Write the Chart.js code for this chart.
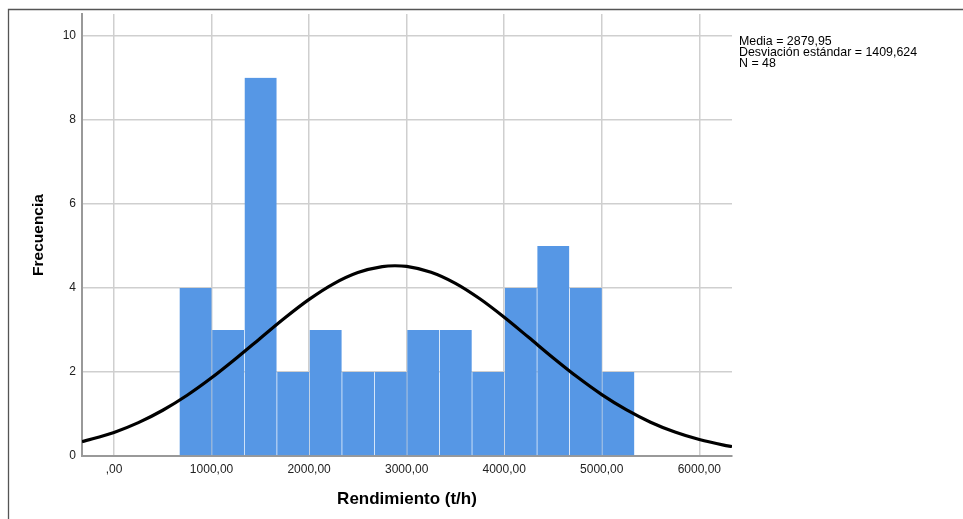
<!DOCTYPE html>
<html>
<head>
<meta charset="utf-8">
<script src="https://cdn.jsdelivr.net/npm/chart.js@4/dist/chart.umd.min.js"></script>
<style>
  html, body { margin: 0; padding: 0; background: #fff; }
  canvas { display: block; }
</style>
</head>
<body>
<canvas id="hist" width="963" height="519"></canvas>
<script>
// Histogram bins of Rendimiento (t/h): edges and frequency per bar
const binEdges = [666.67, 1000.00, 1333.33, 1666.67, 2000.00, 2333.33, 2666.67, 3000.00,
                  3333.33, 3666.67, 4000.00, 4333.33, 4666.67, 5000.00, 5333.33];
const binCounts = [4, 3, 9, 2, 3, 2, 2, 3, 3, 2, 4, 5, 4, 2];

// Normal curve heights (frequency units) along the Rendimiento axis
const curveX = [-328, 0, 250, 500, 750, 1000, 1250, 1500, 1750, 2000, 2250, 2500, 2750, 2880,
                3000, 3250, 3500, 3750, 4000, 4250, 4500, 4750, 5000, 5250, 5500, 5750, 6000, 6250, 6335];
const curveY = [0.34, 0.561, 0.794, 1.089, 1.446, 1.861, 2.321, 2.804, 3.284, 3.727, 4.098, 4.366, 4.509, 4.528,
                4.512, 4.374, 4.110, 3.742, 3.302, 2.824, 2.339, 1.878, 1.461, 1.102, 0.805, 0.570, 0.391, 0.260, 0.225];

// Axis ticks
const xTickValues = [0, 1000, 2000, 3000, 4000, 5000, 6000];
const xTickLabels = [',00', '1000,00', '2000,00', '3000,00', '4000,00', '5000,00', '6000,00'];
const yTickValues = [0, 2, 4, 6, 8, 10];
const yTickLabels = ['0', '2', '4', '6', '8', '10'];

// Summary statistics shown beside the plot
const statsLines = ['Media = 2879,95', 'Desviación estándar = 1409,624', 'N = 48'];

const FONT = "'Liberation Sans', Arial, Helvetica, sans-serif";

const barPoints = binCounts.map((c, i) => ({ x: (binEdges[i] + binEdges[i + 1]) / 2, y: c }));
const curvePoints = curveX.map((x, i) => ({ x: x, y: curveY[i] }));

// White background and the outer frame
const framePlugin = {
  id: 'frame',
  beforeDraw(chart) {
    const ctx = chart.ctx;
    ctx.save();
    ctx.fillStyle = '#fff';
    ctx.fillRect(0, 0, chart.width, chart.height);
    ctx.strokeStyle = '#555';
    ctx.lineWidth = 1.3;
    ctx.beginPath();
    ctx.moveTo(8.5, chart.height);
    ctx.lineTo(8.5, 9.5);
    ctx.lineTo(chart.width, 9.5);
    ctx.stroke();
    ctx.restore();
  }
};

// Statistics block to the right of the plot area
const statsPlugin = {
  id: 'stats',
  afterDraw(chart) {
    const ctx = chart.ctx;
    const x0 = chart.chartArea.right + 7;
    ctx.save();
    ctx.font = '12.4px ' + FONT;
    ctx.fillStyle = '#000';
    ctx.textAlign = 'left';
    ctx.textBaseline = 'alphabetic';
    statsLines.forEach((t, i) => ctx.fillText(t, x0, 45 + i * 11));
    ctx.restore();
  }
};

new Chart(document.getElementById('hist'), {
  type: 'bar',
  data: {
    datasets: [
      {
        type: 'line',
        data: curvePoints,
        borderColor: '#000',
        borderWidth: 3.2,
        pointRadius: 0,
        fill: false,
        cubicInterpolationMode: 'monotone',
        order: 0
      },
      {
        type: 'bar',
        data: barPoints,
        backgroundColor: '#5697e5',
        borderColor: 'rgba(255,255,255,0)',
        borderWidth: { top: 0, right: 0, bottom: 0, left: 1 },
        borderSkipped: false,
        barPercentage: 1,
        categoryPercentage: 1,
        grouped: false,
        order: 1
      }
    ]
  },
  options: {
    responsive: false,
    animation: false,
    devicePixelRatio: 1,
    layout: { padding: { left: 0, top: 14, right: 231, bottom: 0 } },
    plugins: { legend: { display: false }, tooltip: { enabled: false } },
    scales: {
      x: {
        type: 'linear',
        min: -328,
        max: 6335,
        offset: false,
        afterBuildTicks: (s) => { s.ticks = xTickValues.map(v => ({ value: v })); },
        afterFit: (s) => { s.height = 63; },
        ticks: {
          callback: (v, i) => xTickLabels[i],
          font: { family: FONT, size: 12 },
          color: '#222',
          padding: 6,
          maxRotation: 0,
          autoSkip: false
        },
        grid: { color: '#cfcfcf', lineWidth: 1.5, drawTicks: false, offset: false },
        border: { color: '#999', width: 2 },
        title: {
          display: true,
          text: 'Rendimiento (t/h)',
          font: { family: FONT, size: 17, weight: 'bold' },
          color: '#000',
          padding: { top: 0, bottom: 9 }
        }
      },
      y: {
        type: 'linear',
        min: 0,
        max: 10.52,
        afterBuildTicks: (s) => { s.ticks = yTickValues.map(v => ({ value: v })); },
        afterFit: (s) => { s.width = 82; },
        ticks: {
          callback: (v, i) => yTickLabels[i],
          font: { family: FONT, size: 12 },
          color: '#222',
          padding: 6
        },
        grid: { color: '#cfcfcf', lineWidth: 1.5, drawTicks: false },
        border: { color: '#999', width: 2 },
        title: {
          display: true,
          text: 'Frecuencia',
          font: { family: FONT, size: 15.5, weight: 'bold' },
          color: '#000',
          padding: { top: 29, bottom: 0 }
        }
      }
    }
  },
  plugins: [framePlugin, statsPlugin]
});
</script>
</body>
</html>
